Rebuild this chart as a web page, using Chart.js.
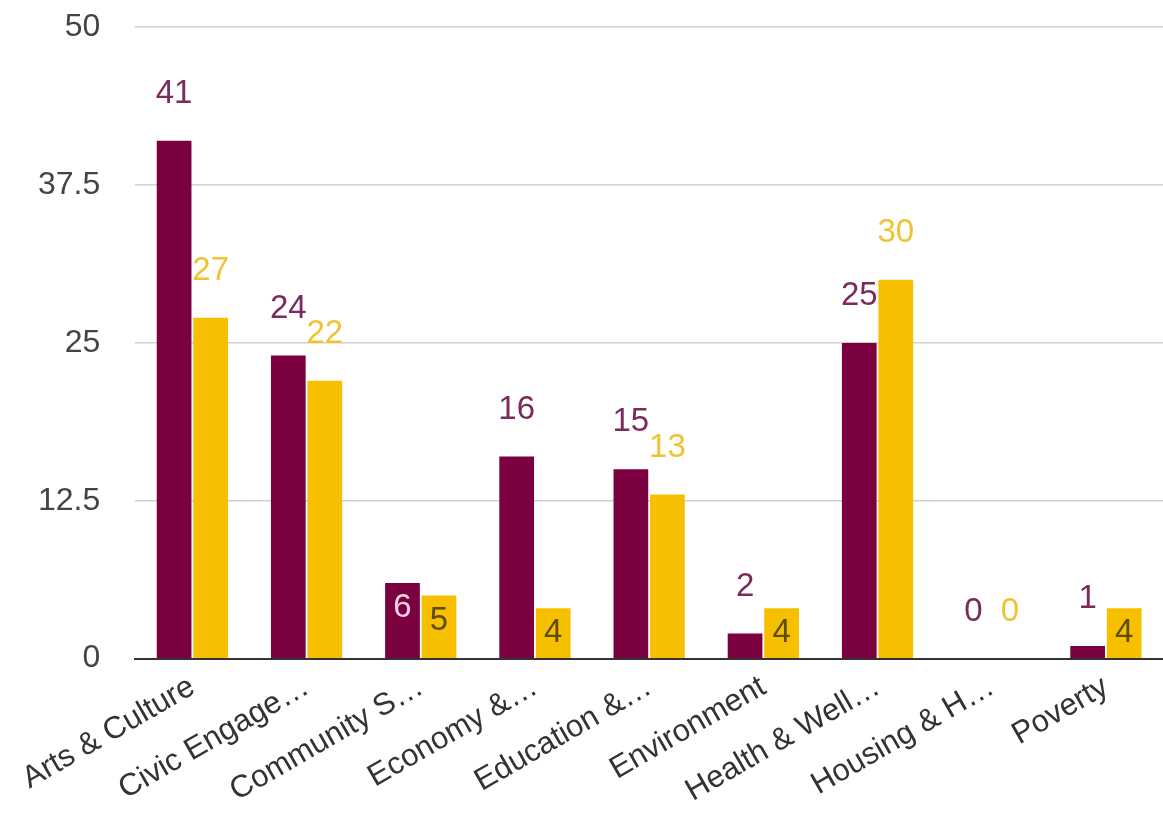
<!DOCTYPE html>
<html>
<head>
<meta charset="utf-8">
<script src="https://cdn.jsdelivr.net/npm/chart.js@4"></script>
<style>
  html, body { margin: 0; padding: 0; background: #fff; overflow: hidden; }
  #wrap { width: 1163px; height: 843px; margin-top: -27px; }
</style>
</head>
<body>
<div id="wrap"><canvas id="barChart"></canvas></div>
<script>
const categories = ['Arts & Culture', 'Civic Engage…', 'Community S…', 'Economy &…', 'Education &…',
    'Environment', 'Health & Well…', 'Housing & H…', 'Poverty'];
const seriesA = [41, 24, 6, 16, 15, 2, 25, 0, 1];
const seriesB = [27, 22, 5, 4, 13, 4, 30, 0, 4];
const yTicks = [0, 12.5, 25, 37.5, 50];

const MAROON = '#7a0040';
const GOLD = '#f6c000';

// value labels: above the bar, or inside when a small bar is tall enough
const valueLabels = {
    id: 'valueLabels',
    afterDatasetsDraw(chart) {
        const ctx = chart.ctx;
        ctx.save();
        ctx.font = '33px "Liberation Sans", Arial, sans-serif';
        ctx.textAlign = 'center';
        ctx.textBaseline = 'middle';
        chart.data.datasets.forEach((ds, i) => {
            const meta = chart.getDatasetMeta(i);
            meta.data.forEach((bar, j) => {
                const v = ds.data[j];
                const h = bar.base - bar.y;
                if (v < 10 && h > 40) {
                    ctx.fillStyle = ds.insideColor;
                    ctx.fillText(String(v), bar.x, bar.y + 25);
                } else {
                    ctx.fillStyle = ds.labelColor;
                    ctx.fillText(String(v), bar.x, bar.y - 47);
                }
            });
        });
        ctx.restore();
    }
};

const ctx = document.getElementById('barChart').getContext('2d');
new Chart(ctx, {
    type: 'bar',
    data: {
        labels: categories,
        datasets: [
            {
                label: 'Series A',
                data: seriesA,
                backgroundColor: MAROON,
                labelColor: '#7b2a5c',
                insideColor: '#f3d0e2',
                categoryPercentage: 0.64,
                barPercentage: 0.95
            },
            {
                label: 'Series B',
                data: seriesB,
                backgroundColor: GOLD,
                labelColor: '#f1c232',
                insideColor: '#5e4c0a',
                categoryPercentage: 0.64,
                barPercentage: 0.95
            }
        ]
    },
    options: {
        responsive: true,
        maintainAspectRatio: false,
        animation: false,
        layout: { padding: { top: 0, left: 3, right: 0, bottom: 4 } },
        scales: {
            x: {
                grid: { display: false },
                border: { color: '#333', width: 2 },
                ticks: {
                    color: '#333',
                    font: { size: 31, family: '"Liberation Sans", Arial, sans-serif' },
                    minRotation: 30,
                    maxRotation: 30,
                    autoSkip: false,
                    padding: 2
                }
            },
            y: {
                min: 0,
                max: 50,
                afterBuildTicks: axis => { axis.ticks = yTicks.map(v => ({ value: v })); },
                grid: { color: '#d0d0d0', lineWidth: 1.5, drawTicks: false },
                border: { display: false },
                ticks: {
                    color: '#444',
                    font: { size: 32, family: '"Liberation Sans", Arial, sans-serif' },
                    padding: 35
                }
            }
        },
        plugins: {
            legend: { display: false },
            tooltip: { enabled: false }
        }
    },
    plugins: [valueLabels]
});
</script>
</body>
</html>
